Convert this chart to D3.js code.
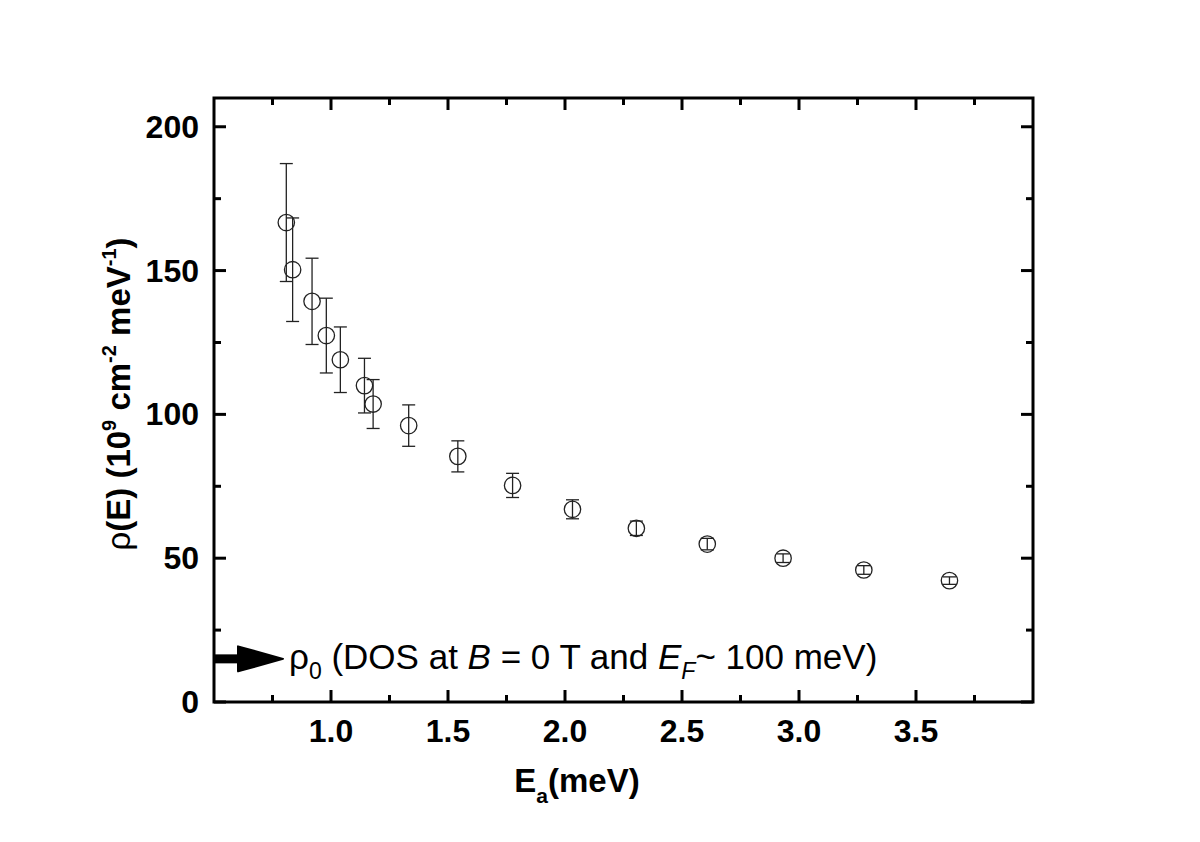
<!DOCTYPE html>
<html><head><meta charset="utf-8">
<script src="https://cdn.jsdelivr.net/npm/d3@7"></script>
<style>body{margin:0;background:#fff}svg{display:block}text{font-family:"Liberation Sans",Arial,sans-serif}</style>
</head><body><svg id="c" width="1200" height="842"></svg>
<script>
const energy = [0.809, 0.836, 0.919, 0.980, 1.040, 1.143, 1.180, 1.332, 1.542, 1.776, 2.032, 2.305, 2.608, 2.932, 3.277, 3.643];
const dos    = [166.7, 150.3, 139.3, 127.4, 119.0, 110.0, 103.6, 96.1, 85.4, 75.3, 67.0, 60.4, 54.9, 50.0, 45.9, 42.2];
const dosErr = [20.5, 18.0, 15.0, 13.0, 11.4, 9.5, 8.5, 7.2, 5.4, 4.2, 3.3, 2.5, 2.0, 1.5, 1.5, 1.3];
const xTicks = [1.0, 1.5, 2.0, 2.5, 3.0, 3.5];
const xMinor = [0.75, 1.25, 1.75, 2.25, 2.75, 3.25, 3.75];
const yTicks = [0, 50, 100, 150, 200];
const yMinor = [25, 75, 125, 175];
const rho0 = 15;

const svg = d3.select("#c");
const L = 214, R = 1033, T = 98, B = 702;
const x = d3.scaleLinear().domain([0.5, 4.0]).range([L, R]);
const y = d3.scaleLinear().domain([0, 210]).range([B, T]);

const g = svg.append("g");
function ticks(vals, len) {
  vals.forEach(v => {
    g.append("line").attr("x1", x(v)).attr("x2", x(v)).attr("y1", B).attr("y2", B - len).attr("stroke", "#000").attr("stroke-width", 3);
    g.append("line").attr("x1", x(v)).attr("x2", x(v)).attr("y1", T).attr("y2", T + len).attr("stroke", "#000").attr("stroke-width", 3);
  });
}
ticks(xTicks, 12); ticks(xMinor, 7);
function yt(vals, len) {
  vals.forEach(v => {
    g.append("line").attr("y1", y(v)).attr("y2", y(v)).attr("x1", L).attr("x2", L + len).attr("stroke", "#000").attr("stroke-width", 3);
    g.append("line").attr("y1", y(v)).attr("y2", y(v)).attr("x1", R).attr("x2", R - len).attr("stroke", "#000").attr("stroke-width", 3);
  });
}
yt(yTicks, 12); yt(yMinor, 7);
g.append("rect").attr("x", L).attr("y", T).attr("width", R - L).attr("height", B - T).attr("fill", "none").attr("stroke", "#000").attr("stroke-width", 3);

// tick labels
g.selectAll(".xl").data(xTicks).enter().append("text").attr("x", d => x(d)).attr("y", B + 40)
  .attr("text-anchor", "middle").attr("font-weight", "bold").attr("font-size", 32).text(d => d.toFixed(1));
g.selectAll(".yl").data(yTicks).enter().append("text").attr("x", L - 15).attr("y", d => y(d) + 11)
  .attr("text-anchor", "end").attr("font-weight", "bold").attr("font-size", 32).text(d => d);

// axis titles
const xt = g.append("text").attr("x", 577).attr("y", 792).attr("text-anchor", "middle").attr("font-weight", "bold").attr("font-size", 33);
xt.append("tspan").text("E");
xt.append("tspan").attr("font-size", 21).attr("dy", 11).text("a");
xt.append("tspan").attr("dy", -11).text("(meV)");

const ytl = g.append("text").attr("transform", "translate(130,394) rotate(-90)").attr("text-anchor", "middle").attr("font-weight", "bold").attr("font-size", 33);
ytl.append("tspan").attr("font-weight", "normal").text("ρ");
ytl.append("tspan").text("(E) (10");
ytl.append("tspan").attr("font-size", 20).attr("dy", -14).text("9");
ytl.append("tspan").attr("dy", 14).text(" cm");
ytl.append("tspan").attr("font-size", 20).attr("dy", -14).text("-2");
ytl.append("tspan").attr("dy", 14).text(" meV");
ytl.append("tspan").attr("font-size", 20).attr("dy", -14).text("-1");
ytl.append("tspan").attr("dy", 14).text(")");

// error bars
const eb = g.append("g").attr("stroke", "#222").attr("stroke-width", 1.3);
energy.forEach((e, i) => {
  const cx = x(e), y1 = y(dos[i] + dosErr[i]), y2 = y(dos[i] - dosErr[i]);
  eb.append("line").attr("x1", cx).attr("x2", cx).attr("y1", y1).attr("y2", y2);
  eb.append("line").attr("x1", cx - 6.5).attr("x2", cx + 6.5).attr("y1", y1).attr("y2", y1);
  eb.append("line").attr("x1", cx - 6.5).attr("x2", cx + 6.5).attr("y1", y2).attr("y2", y2);
});
g.selectAll(".pt").data(energy).enter().append("circle").attr("cx", d => x(d)).attr("cy", (d, i) => y(dos[i]))
  .attr("r", 8.2).attr("fill", "none").attr("stroke", "#222").attr("stroke-width", 1.3);

// arrow
const ay = y(rho0);
g.append("line").attr("x1", L).attr("x2", L + 28).attr("y1", ay).attr("y2", ay).attr("stroke", "#000").attr("stroke-width", 9);
g.append("path").attr("d", `M${L + 24},${ay - 12.5} L${L + 69},${ay} L${L + 24},${ay + 12.5} Z`).attr("fill", "#000").attr("stroke", "#000").attr("stroke-width", 2).attr("stroke-linejoin", "round");

const ann = g.append("text").attr("x", 289).attr("y", 669).attr("font-size", 35);
ann.append("tspan").text("ρ");
ann.append("tspan").attr("font-size", 23).attr("dy", 10).text("0");
ann.append("tspan").attr("dy", -10).text(" (DOS at ");
ann.append("tspan").attr("font-style", "italic").text("B");
ann.append("tspan").text(" = 0 T and ");
ann.append("tspan").attr("font-style", "italic").text("E");
ann.append("tspan").attr("font-style", "italic").attr("font-size", 23).attr("dy", 10).text("F");
ann.append("tspan").attr("dy", -10).text("~ 100 meV)");
</script></body></html>
